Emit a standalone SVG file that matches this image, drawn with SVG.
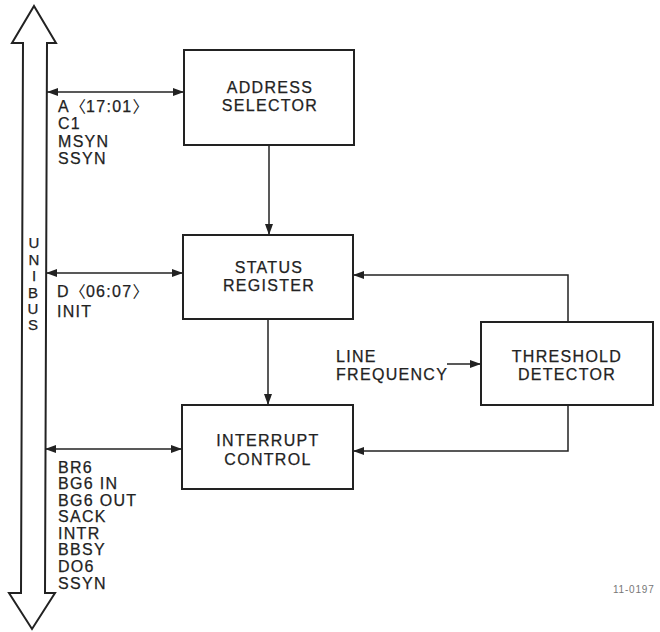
<svg xmlns="http://www.w3.org/2000/svg" width="660" height="632" viewBox="0 0 660 632">
<style>
.box{fill:#fff;stroke:#222;stroke-width:2}
.ln{fill:none;stroke:#222;stroke-width:1.5}
.t{font-family:"Liberation Sans",Arial,sans-serif;font-size:16px;fill:#222;letter-spacing:1.3px;stroke:#222;stroke-width:0.25}
.c{text-anchor:middle}
.br{font-family:"Noto Sans CJK JP",sans-serif;letter-spacing:0;stroke-width:0}
.bus{fill:#fff;stroke:#222;stroke-width:2;stroke-linejoin:miter}
.v{font-family:"Liberation Sans",Arial,sans-serif;font-size:15px;fill:#222;text-anchor:middle;stroke:#222;stroke-width:0.25}
</style>
<defs>
<marker id="ah" markerUnits="userSpaceOnUse" markerWidth="12" markerHeight="10" refX="11" refY="5" orient="auto-start-reverse">
<path d="M0,1 L11,5 L0,9 Z" fill="#222"/>
</marker>
</defs>
<g id="unibus">
<path class="bus" d="M34,6 L56,43 L47,43 L45,593 L55,593 L32,629 L9,593 L21,593 L23,43 L12,43 Z"/>
<text class="v" x="34" y="248">U</text>
<text class="v" x="34" y="265">N</text>
<text class="v" x="34" y="281">I</text>
<text class="v" x="33" y="298">B</text>
<text class="v" x="33" y="314">U</text>
<text class="v" x="33" y="330">S</text>
</g>
<g id="connectors">
<line class="ln" x1="47" y1="92" x2="184" y2="92" marker-start="url(#ah)" marker-end="url(#ah)"/>
<line class="ln" x1="46" y1="273" x2="183" y2="273" marker-start="url(#ah)" marker-end="url(#ah)"/>
<line class="ln" x1="45" y1="449" x2="182" y2="449" marker-start="url(#ah)" marker-end="url(#ah)"/>
<line class="ln" x1="269" y1="145" x2="269" y2="235" marker-end="url(#ah)"/>
<line class="ln" x1="268" y1="319" x2="268" y2="405" marker-end="url(#ah)"/>
<polyline class="ln" points="568,322 568,275 353,275" marker-end="url(#ah)"/>
<polyline class="ln" points="568,405 568,451 353,451" marker-end="url(#ah)"/>
<line class="ln" x1="447" y1="364" x2="481" y2="364" marker-end="url(#ah)"/>
</g>
<g id="address-selector">
<rect class="box" x="184" y="50" width="170" height="95"/>
<text class="t c" x="270" y="93">ADDRESS</text>
<text class="t c" x="270" y="111">SELECTOR</text>
</g>
<g id="status-register">
<rect class="box" x="183" y="235" width="170" height="84"/>
<text class="t c" x="269" y="273">STATUS</text>
<text class="t c" x="269" y="291">REGISTER</text>
</g>
<g id="interrupt-control">
<rect class="box" x="182" y="405" width="171" height="84"/>
<text class="t c" x="268" y="446">INTERRUPT</text>
<text class="t c" x="268" y="465">CONTROL</text>
</g>
<g id="threshold-detector">
<rect class="box" x="481" y="322" width="172" height="83"/>
<text class="t c" x="567" y="362">THRESHOLD</text>
<text class="t c" x="567" y="380">DETECTOR</text>
</g>
<g id="line-frequency">
<text class="t" x="336" y="362">LINE</text>
<text class="t" x="336" y="380">FREQUENCY</text>
</g>
<g id="labels">
<text class="t" x="58" y="112">A<tspan class="br">〈</tspan>17:01<tspan class="br">〉</tspan></text>
<text class="t" x="58" y="129">C1</text>
<text class="t" x="58" y="147">MSYN</text>
<text class="t" x="58" y="164">SSYN</text>
<text class="t" x="57" y="297">D<tspan class="br">〈</tspan>06:07<tspan class="br">〉</tspan></text>
<text class="t" x="57" y="317">INIT</text>
<text class="t" x="58" y="473">BR6</text>
<text class="t" x="58" y="489">BG6 IN</text>
<text class="t" x="58" y="506">BG6 OUT</text>
<text class="t" x="58" y="522">SACK</text>
<text class="t" x="58" y="539">INTR</text>
<text class="t" x="58" y="555">BBSY</text>
<text class="t" x="58" y="572">DO6</text>
<text class="t" x="58" y="589">SSYN</text>
<text x="613" y="593" style="font-family:'Liberation Sans',Arial,sans-serif;font-size:10px;fill:#777;letter-spacing:0.8px">11-0197</text>
</g>
</svg>
